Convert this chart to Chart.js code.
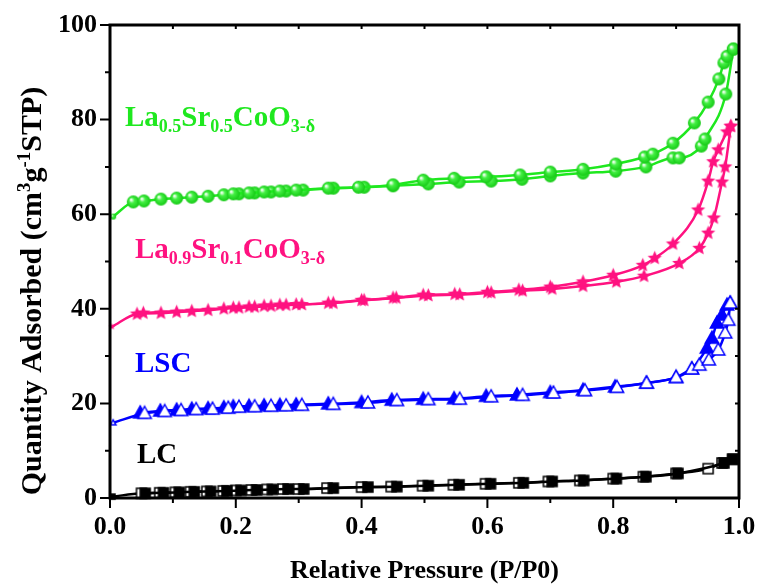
<!DOCTYPE html>
<html>
<head>
<meta charset="utf-8">
<script src="https://cdn.jsdelivr.net/npm/chart.js@4/dist/chart.umd.min.js"></script>
<style>
  html, body { margin: 0; padding: 0; background: #fff; }
  #wrap { width: 761px; height: 587px; position: relative; }
</style>
</head>
<body>
<div id="wrap"><canvas id="isoChart" width="761" height="587"></canvas></div>
<script>
// N2 isotherms: relative pressure P/P0 and quantity adsorbed
const xTicks = [0, 0.2, 0.4, 0.6, 0.8, 1.0];
const yTicks = [0, 20, 40, 60, 80, 100];

// LC (black squares) - open = adsorption, filled = desorption
const lcAdsP = [0.004, 0.05, 0.079, 0.104, 0.128, 0.154, 0.18, 0.2, 0.225, 0.25, 0.275, 0.3, 0.345, 0.4, 0.447, 0.497, 0.546, 0.597, 0.65, 0.697, 0.747, 0.8, 0.848, 0.9, 0.951, 0.973, 0.99];
const lcAdsV = [0.3, 1.0, 1.1, 1.2, 1.3, 1.4, 1.5, 1.6, 1.7, 1.8, 1.9, 1.9, 2.1, 2.3, 2.4, 2.6, 2.8, 3.0, 3.2, 3.5, 3.7, 4.1, 4.5, 5.2, 6.2, 7.4, 8.2];
const lcDesP = [0.056, 0.085, 0.11, 0.134, 0.16, 0.186, 0.208, 0.233, 0.258, 0.283, 0.308, 0.355, 0.41, 0.456, 0.506, 0.555, 0.605, 0.657, 0.703, 0.753, 0.805, 0.852, 0.903, 0.976, 0.99];
const lcDesV = [1.0, 1.1, 1.2, 1.3, 1.4, 1.5, 1.6, 1.7, 1.8, 1.9, 1.9, 2.1, 2.3, 2.4, 2.6, 2.8, 3.0, 3.2, 3.5, 3.7, 4.1, 4.5, 5.2, 7.4, 8.2];

// LSC (blue triangles)
const lscAdsP = [0.005, 0.055, 0.087, 0.113, 0.137, 0.163, 0.188, 0.205, 0.23, 0.256, 0.28, 0.305, 0.355, 0.41, 0.456, 0.506, 0.556, 0.606, 0.656, 0.705, 0.755, 0.806, 0.853, 0.9, 0.925, 0.937, 0.952, 0.967, 0.978, 0.983, 0.986];
const lscAdsV = [15.9, 17.9, 18.3, 18.5, 18.7, 18.8, 19.0, 19.2, 19.3, 19.4, 19.5, 19.6, 19.8, 20.1, 20.6, 20.8, 20.9, 21.4, 21.7, 22.2, 22.7, 23.4, 24.3, 25.5, 27.3, 28.1, 29.2, 31.3, 34.9, 37.6, 41.2];
const lscDesP = [0.048, 0.08, 0.106, 0.13, 0.156, 0.181, 0.196, 0.221, 0.245, 0.27, 0.296, 0.347, 0.4, 0.448, 0.498, 0.547, 0.598, 0.647, 0.7, 0.752, 0.803, 0.853, 0.9, 0.925, 0.949, 0.957, 0.965, 0.973, 0.981, 0.986];
const lscDesV = [18.0, 18.4, 18.6, 18.8, 18.9, 19.1, 19.3, 19.4, 19.5, 19.6, 19.7, 19.9, 20.2, 20.7, 20.9, 21.0, 21.5, 21.8, 22.3, 22.8, 23.5, 24.3, 25.5, 27.3, 31.7, 33.8, 37.0, 38.7, 40.8, 41.2];

// La0.9Sr0.1CoO3-d (pink stars)
const lsc91AdsP = [0.003, 0.043, 0.081, 0.106, 0.13, 0.156, 0.181, 0.205, 0.23, 0.256, 0.28, 0.305, 0.355, 0.404, 0.455, 0.506, 0.556, 0.606, 0.656, 0.703, 0.752, 0.805, 0.849, 0.905, 0.937, 0.951, 0.96, 0.973, 0.978, 0.987];
const lsc91AdsV = [36.2, 38.9, 39.1, 39.3, 39.5, 39.7, 40.0, 40.2, 40.4, 40.6, 40.8, 40.9, 41.2, 41.8, 42.3, 42.8, 43.0, 43.4, 43.8, 44.2, 44.8, 45.7, 46.9, 49.6, 52.8, 56.0, 59.2, 66.8, 70.0, 78.6];
const lsc91DesP = [0.053, 0.196, 0.221, 0.245, 0.27, 0.296, 0.347, 0.4, 0.45, 0.498, 0.548, 0.6, 0.65, 0.7, 0.752, 0.8, 0.847, 0.866, 0.895, 0.935, 0.951, 0.959, 0.967, 0.981, 0.987];
const lsc91DesV = [39.1, 40.2, 40.4, 40.6, 40.8, 40.9, 41.2, 41.8, 42.3, 42.9, 43.1, 43.5, 44.0, 44.6, 45.7, 47.1, 49.2, 50.7, 53.7, 60.9, 67.0, 71.1, 73.6, 77.4, 78.6];

// La0.5Sr0.5CoO3-d (green spheres)
const lsc55AdsP = [0.005, 0.037, 0.054, 0.081, 0.106, 0.13, 0.156, 0.181, 0.205, 0.23, 0.256, 0.28, 0.307, 0.355, 0.404, 0.45, 0.506, 0.555, 0.606, 0.655, 0.7, 0.752, 0.804, 0.852, 0.895, 0.905, 0.94, 0.946, 0.979, 0.991];
const lsc55AdsV = [59.5, 62.6, 62.8, 63.2, 63.4, 63.6, 63.8, 64.1, 64.3, 64.5, 64.7, 64.9, 65.1, 65.5, 65.7, 66.0, 66.4, 66.8, 67.0, 67.4, 68.1, 68.7, 69.1, 70.0, 71.9, 71.9, 74.4, 75.9, 85.4, 94.9];
const lsc55DesP = [0.196, 0.221, 0.245, 0.27, 0.296, 0.347, 0.395, 0.45, 0.498, 0.547, 0.598, 0.652, 0.7, 0.752, 0.804, 0.85, 0.863, 0.895, 0.929, 0.951, 0.968, 0.976, 0.981, 0.991];
const lsc55DesV = [64.3, 64.5, 64.7, 64.9, 65.1, 65.5, 65.7, 66.2, 67.2, 67.6, 67.9, 68.3, 68.9, 69.5, 70.6, 72.1, 72.7, 75.0, 79.3, 83.7, 88.6, 92.0, 93.4, 94.9];

const GREEN = '#1fe81f';
const PINK = '#ff1280';
const BLUE = '#0000ff';
const BLACK = '#000000';
const SERIF = '"Liberation Serif", "Times New Roman", serif';

function toPoints(xs, ys) {
    return xs.map((x, i) => ({ x: x, y: ys[i] }));
}

function makeCanvas(size, draw) {
    const c = document.createElement('canvas');
    c.width = size;
    c.height = size;
    const ctx = c.getContext('2d');
    draw(ctx, size / 2);
    return c;
}

// marker images
function sphere(r) {
    return makeCanvas(Math.ceil(r * 2 + 2), (ctx, m) => {
        const g = ctx.createRadialGradient(m - r * 0.35, m - r * 0.35, r * 0.1, m, m, r);
        g.addColorStop(0, '#f4fff4');
        g.addColorStop(0.35, '#44f044');
        g.addColorStop(1, '#14c814');
        ctx.fillStyle = g;
        ctx.beginPath();
        ctx.arc(m, m, r, 0, Math.PI * 2);
        ctx.fill();
    });
}

function star(r) {
    return makeCanvas(Math.ceil(r * 2 + 2), (ctx, m) => {
        ctx.fillStyle = PINK;
        ctx.beginPath();
        for (let i = 0; i < 10; i++) {
            const rr = i % 2 === 0 ? r : r * 0.45;
            const a = -Math.PI / 2 + i * Math.PI / 5;
            ctx.lineTo(m + rr * Math.cos(a), m + rr * Math.sin(a));
        }
        ctx.closePath();
        ctx.fill();
    });
}

function triangle(r, filled) {
    return makeCanvas(Math.ceil(r * 2 + 4), (ctx, m) => {
        ctx.beginPath();
        ctx.moveTo(m, m - r);
        ctx.lineTo(m + r * 0.95, m + r * 0.7);
        ctx.lineTo(m - r * 0.95, m + r * 0.7);
        ctx.closePath();
        ctx.fillStyle = filled ? BLUE : '#fff';
        ctx.fill();
        ctx.lineWidth = 1.5;
        ctx.strokeStyle = BLUE;
        ctx.stroke();
    });
}

function square(r, filled) {
    return makeCanvas(Math.ceil(r * 2 + 4), (ctx, m) => {
        ctx.fillStyle = filled ? BLACK : '#fff';
        ctx.fillRect(m - r, m - r, r * 2, r * 2);
        ctx.lineWidth = 1.5;
        ctx.strokeStyle = BLACK;
        ctx.strokeRect(m - r, m - r, r * 2, r * 2);
    });
}

const markers = {
    sphere: sphere(6.5), sphereSmall: sphere(3),
    star: star(7.5), starSmall: star(3.5),
    triOpen: triangle(7, false), triFilled: triangle(7, true), triSmall: triangle(3, false),
    sqOpen: square(5, false), sqFilled: square(5, true), sqSmall: square(2.5, true)
};

function series(xs, ys, color, mark, firstMark) {
    return {
        data: toPoints(xs, ys),
        showLine: true,
        borderColor: color,
        backgroundColor: color,
        borderWidth: 2.5,
        cubicInterpolationMode: 'monotone',
        pointStyle: ctx => (firstMark && ctx.dataIndex === 0) ? markers[firstMark] : markers[mark],
        pointRadius: 6,
        clip: false
    };
}

// frame, minor ticks, sample labels and axis titles
const decorPlugin = {
    id: 'decor',
    afterDraw(chart) {
        const ctx = chart.ctx;
        const a = chart.chartArea;
        const xs = chart.scales.x, ys = chart.scales.y;
        ctx.save();
        ctx.strokeStyle = '#000';
        ctx.lineWidth = 2;
        for (let i = 0; i <= 10; i++) {
            const px = xs.getPixelForValue(i / 10);
            const len = i % 2 === 0 ? 10 : 5;
            ctx.beginPath();
            ctx.moveTo(px, a.bottom); ctx.lineTo(px, a.bottom + len);
            ctx.moveTo(px, a.top); ctx.lineTo(px, a.top + 4);
            ctx.stroke();
        }
        for (let i = 0; i <= 10; i++) {
            const py = ys.getPixelForValue(i * 10);
            const len = i % 2 === 0 ? 10 : 5;
            ctx.beginPath();
            ctx.moveTo(a.left, py); ctx.lineTo(a.left - len, py);
            ctx.moveTo(a.right, py); ctx.lineTo(a.right - 4, py);
            ctx.stroke();
        }
        ctx.lineWidth = 3;
        ctx.strokeRect(a.left, a.top, a.right - a.left, a.bottom - a.top);

        // rich text helper: parts of [text, 'n'|'sub'|'sup']
        function rich(parts, x, y, size, color, measureOnly) {
            let cx = x;
            parts.forEach(p => {
                const small = p[1] !== 'n';
                ctx.font = 'bold ' + (small ? Math.round(size * 0.62) : size) + 'px ' + SERIF;
                const dy = p[1] === 'sub' ? size * 0.22 : (p[1] === 'sup' ? -size * 0.38 : 0);
                if (!measureOnly) {
                    ctx.fillStyle = color;
                    ctx.fillText(p[0], cx, y + dy);
                }
                cx += ctx.measureText(p[0]).width;
            });
            return cx - x;
        }
        ctx.textBaseline = 'alphabetic';
        ctx.textAlign = 'left';
        rich([['La', 'n'], ['0.5', 'sub'], ['Sr', 'n'], ['0.5', 'sub'], ['CoO', 'n'], ['3-\u03b4', 'sub']], 125, 126, 29, GREEN);
        rich([['La', 'n'], ['0.9', 'sub'], ['Sr', 'n'], ['0.1', 'sub'], ['CoO', 'n'], ['3-\u03b4', 'sub']], 135, 258, 29, PINK);
        rich([['LSC', 'n']], 135, 372, 29, BLUE);
        rich([['LC', 'n']], 137, 463, 29, BLACK);

        // x title
        ctx.font = 'bold 26px ' + SERIF;
        ctx.fillStyle = '#000';
        ctx.textAlign = 'center';
        ctx.fillText('Relative Pressure (P/P0)', (a.left + a.right) / 2, 578);

        // y title, rotated
        ctx.textAlign = 'left';
        const yParts = [['Quantity Adsorbed (cm', 'n'], ['3', 'sup'], ['g', 'n'], ['-1', 'sup'], ['STP)', 'n']];
        const w = rich(yParts, 0, 0, 30, '#000', true);
        ctx.translate(41, 291);
        ctx.rotate(-Math.PI / 2);
        rich(yParts, -w / 2, 0, 30, '#000');
        ctx.restore();
    }
};

const ctx = document.getElementById('isoChart').getContext('2d');
const isoChart = new Chart(ctx, {
    type: 'scatter',
    data: {
        datasets: [
            series(lsc55DesP, lsc55DesV, GREEN, 'sphere'),
            series(lsc55AdsP, lsc55AdsV, GREEN, 'sphere', 'sphereSmall'),
            series(lsc91DesP, lsc91DesV, PINK, 'star'),
            series(lsc91AdsP, lsc91AdsV, PINK, 'star', 'starSmall'),
            series(lscAdsP, lscAdsV, BLUE, 'triOpen', 'triSmall'),
            series(lscDesP, lscDesV, BLUE, 'triFilled'),
            series(lcDesP, lcDesV, BLACK, 'sqFilled'),
            series(lcAdsP, lcAdsV, BLACK, 'sqOpen', 'sqSmall')
        ]
    },
    options: {
        responsive: false,
        animation: false,
        layout: { padding: { top: 25, right: 22, left: 0, bottom: 0 } },
        plugins: {
            legend: { display: false },
            tooltip: { enabled: false }
        },
        scales: {
            x: {
                type: 'linear',
                min: 0,
                max: 1,
                grid: { display: false, drawTicks: false },
                border: { display: false },
                afterBuildTicks: s => { s.ticks = xTicks.map(v => ({ value: v })); },
                afterFit: s => { s.height = 89; s.paddingLeft = 0; s.paddingRight = 0; },
                ticks: {
                    padding: 14,
                    color: '#000',
                    font: { family: SERIF, size: 26, weight: 'bold' },
                    callback: v => v.toFixed(1)
                }
            },
            y: {
                type: 'linear',
                min: 0,
                max: 100,
                grid: { display: false, drawTicks: false },
                border: { display: false },
                afterBuildTicks: s => { s.ticks = yTicks.map(v => ({ value: v })); },
                afterFit: s => { s.width = 110; s.paddingTop = 0; s.paddingBottom = 0; },
                ticks: {
                    padding: 13,
                    color: '#000',
                    font: { family: SERIF, size: 26, weight: 'bold' },
                    callback: v => String(v)
                }
            }
        }
    },
    plugins: [decorPlugin]
});
</script>
</body>
</html>
